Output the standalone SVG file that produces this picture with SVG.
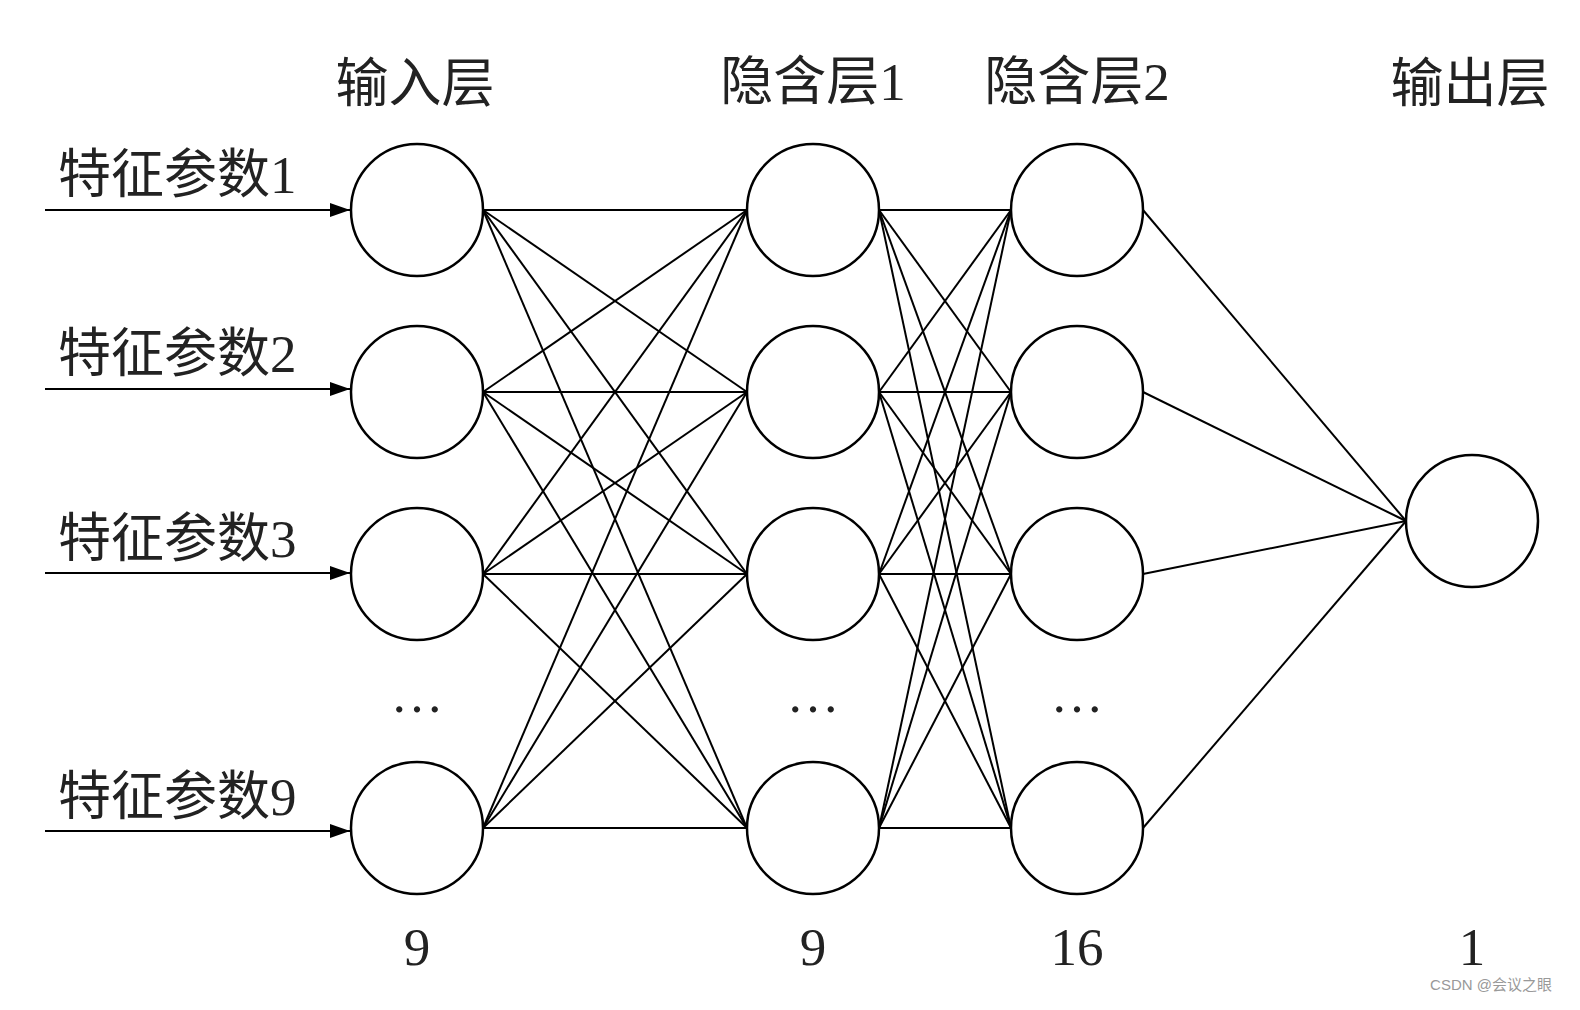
<svg xmlns="http://www.w3.org/2000/svg" width="1580" height="1010" viewBox="0 0 1580 1010">
<style>
.n{fill:#fff;stroke:#000;stroke-width:2.5}
.c line{stroke:#000;stroke-width:2}
.t{font-family:"Liberation Serif","Noto Sans CJK SC",serif;font-size:53px;fill:#222}
.m{text-anchor:middle}
</style>
<defs><marker id="ah" viewBox="0 0 20 14" markerWidth="20" markerHeight="14" refX="20" refY="7" orient="auto" markerUnits="userSpaceOnUse"><path d="M0,0L20,7L0,14z"/></marker></defs>
<g class="c" id="connectors">
<line x1="483" y1="210" x2="747" y2="210"/><line x1="483" y1="210" x2="747" y2="392"/><line x1="483" y1="210" x2="747" y2="574"/><line x1="483" y1="210" x2="747" y2="828"/>
<line x1="483" y1="392" x2="747" y2="210"/><line x1="483" y1="392" x2="747" y2="392"/><line x1="483" y1="392" x2="747" y2="574"/><line x1="483" y1="392" x2="747" y2="828"/>
<line x1="483" y1="574" x2="747" y2="210"/><line x1="483" y1="574" x2="747" y2="392"/><line x1="483" y1="574" x2="747" y2="574"/><line x1="483" y1="574" x2="747" y2="828"/>
<line x1="483" y1="828" x2="747" y2="210"/><line x1="483" y1="828" x2="747" y2="392"/><line x1="483" y1="828" x2="747" y2="574"/><line x1="483" y1="828" x2="747" y2="828"/>
<line x1="879" y1="210" x2="1011" y2="210"/><line x1="879" y1="210" x2="1011" y2="392"/><line x1="879" y1="210" x2="1011" y2="574"/><line x1="879" y1="210" x2="1011" y2="828"/>
<line x1="879" y1="392" x2="1011" y2="210"/><line x1="879" y1="392" x2="1011" y2="392"/><line x1="879" y1="392" x2="1011" y2="574"/><line x1="879" y1="392" x2="1011" y2="828"/>
<line x1="879" y1="574" x2="1011" y2="210"/><line x1="879" y1="574" x2="1011" y2="392"/><line x1="879" y1="574" x2="1011" y2="574"/><line x1="879" y1="574" x2="1011" y2="828"/>
<line x1="879" y1="828" x2="1011" y2="210"/><line x1="879" y1="828" x2="1011" y2="392"/><line x1="879" y1="828" x2="1011" y2="574"/><line x1="879" y1="828" x2="1011" y2="828"/>
<line x1="1143" y1="210" x2="1406" y2="521"/><line x1="1143" y1="392" x2="1406" y2="521"/><line x1="1143" y1="574" x2="1406" y2="521"/><line x1="1143" y1="828" x2="1406" y2="521"/>
<line x1="45" y1="210" x2="350" y2="210" marker-end="url(#ah)"/>
<line x1="45" y1="389" x2="350" y2="389" marker-end="url(#ah)"/>
<line x1="45" y1="573" x2="350" y2="573" marker-end="url(#ah)"/>
<line x1="45" y1="831" x2="350" y2="831" marker-end="url(#ah)"/>
</g>
<g id="in1"><circle class="n" cx="417" cy="210" r="66"/></g>
<g id="in2"><circle class="n" cx="417" cy="392" r="66"/></g>
<g id="in3"><circle class="n" cx="417" cy="574" r="66"/></g>
<g id="in9"><circle class="n" cx="417" cy="828" r="66"/></g>
<g id="h1a"><circle class="n" cx="813" cy="210" r="66"/></g>
<g id="h1b"><circle class="n" cx="813" cy="392" r="66"/></g>
<g id="h1c"><circle class="n" cx="813" cy="574" r="66"/></g>
<g id="h1d"><circle class="n" cx="813" cy="828" r="66"/></g>
<g id="h2a"><circle class="n" cx="1077" cy="210" r="66"/></g>
<g id="h2b"><circle class="n" cx="1077" cy="392" r="66"/></g>
<g id="h2c"><circle class="n" cx="1077" cy="574" r="66"/></g>
<g id="h2d"><circle class="n" cx="1077" cy="828" r="66"/></g>
<g id="out"><circle class="n" cx="1472" cy="521" r="66"/></g>
<g id="labels" class="t">
<text x="415" y="102" class="m">输入层</text>
<text x="813" y="100" class="m">隐含层1</text>
<text x="1077" y="100" class="m">隐含层2</text>
<text x="1470" y="102" class="m">输出层</text>
<text x="58" y="193">特征参数1</text>
<text x="58" y="372">特征参数2</text>
<text x="58" y="557">特征参数3</text>
<text x="58" y="815">特征参数9</text>
<text x="417" y="712" class="m">…</text>
<text x="813" y="712" class="m">…</text>
<text x="1077" y="712" class="m">…</text>
<text x="417" y="965" class="m">9</text>
<text x="813" y="965" class="m">9</text>
<text x="1077" y="965" class="m">16</text>
<text x="1472" y="965" class="m">1</text>
</g>
<text x="1552" y="990" text-anchor="end" style="font-family:'Liberation Sans','Noto Sans CJK SC',sans-serif;font-size:15px;fill:#999">CSDN @会议之眼</text>
</svg>
